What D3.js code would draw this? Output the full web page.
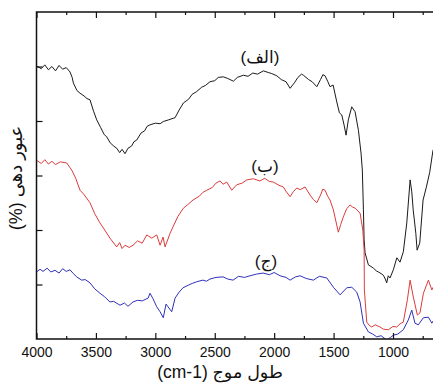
<!DOCTYPE html>
<html><head><meta charset="utf-8">
<script src="https://cdn.jsdelivr.net/npm/d3@7"></script>
<style>body{margin:0;background:#fff}svg{display:block}</style>
</head><body>
<svg id="c" width="433" height="383"></svg>
<script>
// wavenumber (cm-1) and transmittance (arbitrary %)
const blackWn = [4000,3960,3930,3900,3870,3840,3810,3780,3750,3718,3700,3690,3660,3634,3600,3575,3550,3520,3493,3460,3430,3409,3380,3350,3325,3300,3280,3255,3230,3200,3180,3157,3120,3090,3070,3045,3000,2960,2933,2890,2850,2834,2800,2764,2720,2690,2652,2610,2580,2540,2500,2470,2428,2390,2343,2310,2259,2220,2180,2140,2091,2050,2020,1978,1940,1900,1866,1830,1800,1770,1754,1710,1680,1641,1610,1590,1572,1550,1530,1504,1473,1451,1431,1412,1395,1376,1347,1319,1291,1269,1258,1249,1243,1235,1207,1185,1165,1140,1123,1100,1081,1065,1053,1040,1025,997,968,941,913,884,856,842,830,808,797,775,747,719,691,663];
const blackT  = [50.1,49.6,50.3,49.4,50.0,49.2,50.2,49.5,49.8,49.0,48.0,47.0,45.6,45.1,44.6,44.1,43.9,41.8,40.2,38.8,37.5,37.1,36.0,35.4,35.0,34.2,34.8,34.0,35.0,35.4,36.2,36.5,37.8,38.2,39.0,39.3,39.6,39.5,39.9,40.2,40.5,40.6,42.0,43.3,44.0,44.9,45.4,46.2,46.5,47.2,47.4,48.0,48.1,47.8,47.3,48.0,48.4,48.2,48.8,48.6,49.2,48.9,48.7,48.3,47.6,47.2,46.0,47.0,48.0,48.6,48.4,47.6,47.2,46.3,47.6,48.5,48.3,47.3,46.3,46.6,43.5,41.5,41.1,39.3,37.4,40.2,42.6,41.7,38.3,34.1,31.0,23.7,18.2,15.8,13.6,13.3,13.0,12.5,12.3,12.0,11.7,11.0,10.3,11.6,11.2,12.7,14.9,14.1,16.0,21.3,29.2,27.0,23.7,19.4,16.3,17.6,25.5,27.9,30.6,34.7];

const redWn = [4000,3960,3930,3900,3870,3840,3800,3746,3704,3670,3634,3600,3550,3510,3466,3420,3382,3350,3325,3300,3280,3255,3220,3188,3150,3110,3072,3030,2988,2960,2935,2918,2876,2851,2810,2764,2730,2683,2630,2600,2567,2520,2490,2455,2430,2399,2357,2315,2270,2230,2175,2120,2080,2040,2007,1960,1923,1900,1866,1840,1810,1780,1740,1698,1670,1641,1610,1590,1572,1550,1530,1502,1460,1440,1418,1390,1361,1340,1319,1277,1254,1243,1241,1221,1200,1179,1150,1109,1080,1039,1000,968,940,913,879,856,829,795,773,744,702,673,663];
const redT  = [32.8,32.2,32.9,32.1,32.6,32.0,32.5,32.3,31.0,29.5,27.3,26.5,25.0,23.0,21.3,19.8,18.5,17.6,16.9,17.7,16.6,17.2,16.8,17.2,18.0,17.6,19.1,18.5,19.1,17.2,18.7,16.9,19.4,20.6,22.5,24.0,24.6,25.5,26.2,26.9,27.3,27.8,28.6,29.0,28.4,28.8,27.3,28.3,28.6,29.2,29.4,29.0,29.5,28.9,28.8,28.2,27.9,27.1,26.1,27.0,27.7,27.4,27.9,26.4,25.6,25.0,26.4,27.5,27.3,26.2,25.5,23.7,19.6,21.0,22.4,23.9,24.6,24.2,24.0,23.1,20.0,16.3,9.0,3.1,2.5,2.2,2.6,2.2,1.8,1.7,2.3,2.2,2.8,3.1,7.2,10.8,7.7,4.4,4.8,8.4,10.8,9.0,9.5];

const blueWn = [4000,3970,3945,3910,3880,3844,3810,3780,3750,3718,3690,3662,3620,3590,3550,3510,3466,3430,3382,3350,3297,3260,3230,3188,3150,3110,3061,3045,3020,2988,2960,2933,2910,2893,2862,2834,2800,2767,2720,2690,2652,2600,2570,2540,2490,2430,2390,2346,2300,2250,2203,2150,2094,2040,2000,1951,1900,1866,1820,1782,1730,1670,1620,1557,1502,1445,1389,1347,1305,1277,1249,1207,1170,1137,1100,1053,1020,997,960,913,871,842,815,787,744,702,673,663];
const blueT  = [12.3,12.8,12.4,13.0,12.3,12.6,12.1,12.9,12.4,12.7,12.0,11.4,10.8,10.9,10.3,9.2,8.4,7.8,6.8,6.9,6.2,6.6,6.0,6.8,7.1,7.0,7.5,8.4,7.4,5.9,5.0,3.9,6.4,5.9,5.0,7.5,8.6,9.4,9.9,10.2,10.5,10.8,10.6,11.0,11.3,11.4,11.0,10.8,11.5,11.3,11.6,11.9,12.1,11.8,12.2,11.6,11.3,10.8,11.4,11.6,11.1,10.8,11.5,11.2,9.5,8.1,9.4,9.5,8.6,6.8,2.9,1.3,0.9,0.4,0.6,-0.2,0.3,0.7,0.9,1.7,3.5,5.3,2.9,2.6,3.9,4.0,2.9,3.3];

const majorTicks = [4000,3500,3000,2500,2000,1500,1000];
const minorTicks = [3750,3250,2750,2250,1750,1250,750];
const leftTicks = [10,20,30,40,50];

const seriesNames = ["(الف)","(ب)","(ج)"];
const xTitle = "طول موج (cm-1)";
const yTitle = "عبور دهی (%)";

const L = 36.5, R = 433, T = 12, B = 339;
const svg = d3.select("#c");
const x = d3.scaleLinear().domain([4000,1000]).range([L,393]);
const y = d3.scaleLinear().domain([0,60]).range([B,T]);

svg.append("defs").append("clipPath").attr("id","clip")
  .append("rect").attr("x",L).attr("y",T).attr("width",R-L+2).attr("height",B-T);

const series = [
  {wn: blackWn, t: blackT, color:"#1a1a1a"},
  {wn: redWn, t: redT, color:"#dd3b3b"},
  {wn: blueWn, t: blueT, color:"#3030b8"}
];
const line = d3.line().x(d=>x(d[0])).y(d=>y(d[1]));
const g = svg.append("g").attr("clip-path","url(#clip)");
series.forEach(s=>{
  g.append("path").datum(d3.zip(s.wn,s.t)).attr("d",line)
   .attr("fill","none").attr("stroke",s.color).attr("stroke-width",1).attr("stroke-linejoin","round");
});

// axes
const font = "'Liberation Sans', Arial, 'DejaVu Sans', sans-serif";
const bx = svg.append("g").attr("transform",`translate(0,${B})`)
  .call(d3.axisBottom(x).tickValues(majorTicks).tickSizeInner(-6).tickSizeOuter(0).tickPadding(8).tickFormat(d3.format("d")));
bx.select(".domain").remove();
bx.selectAll("text").attr("font-size",14).attr("font-family",font).attr("fill","#111");
const bm = svg.append("g").attr("transform",`translate(0,${B})`)
  .call(d3.axisBottom(x).tickValues(minorTicks).tickSizeInner(-3).tickSizeOuter(0).tickFormat(""));
bm.select(".domain").remove();
const tx = svg.append("g").attr("transform",`translate(0,${T})`)
  .call(d3.axisTop(x).tickValues(majorTicks).tickSizeInner(-6).tickSizeOuter(0).tickFormat(""));
tx.select(".domain").remove();
const tm = svg.append("g").attr("transform",`translate(0,${T})`)
  .call(d3.axisTop(x).tickValues(minorTicks).tickSizeInner(-3).tickSizeOuter(0).tickFormat(""));
tm.select(".domain").remove();
const ly = svg.append("g").attr("transform",`translate(${L},0)`)
  .call(d3.axisLeft(y).tickValues(leftTicks).tickSizeInner(-6).tickSizeOuter(0).tickFormat(""));
ly.select(".domain").remove();
svg.selectAll(".tick line").attr("stroke","#111").attr("stroke-width",1.2);

// frame
svg.append("path").attr("d",`M${R+2},${T}H${L}V${B}H${R+2}`)
  .attr("fill","none").attr("stroke","#111").attr("stroke-width",1.5);

// titles
svg.append("text").attr("x",220).attr("y",378).attr("text-anchor","middle")
  .attr("direction","rtl").style("direction","rtl").style("unicode-bidi","embed")
  .attr("font-size",17.5).attr("font-family",font).attr("fill","#111").text(xTitle);
svg.append("text").attr("transform","translate(22,178) rotate(-90)").attr("text-anchor","middle")
  .attr("direction","rtl").style("direction","rtl").style("unicode-bidi","embed")
  .attr("font-size",18).attr("font-family",font).attr("fill","#111").text(yTitle);

const labelPos = [[260,63],[265,172],[266,267]];
seriesNames.forEach((n,i)=>{
  svg.append("text").attr("x",labelPos[i][0]).attr("y",labelPos[i][1]).attr("text-anchor","middle")
    .attr("direction","rtl").style("direction","rtl").style("unicode-bidi","embed")
    .attr("font-size",17).attr("font-family",font).attr("fill","#111").text(n);
});
</script>
</body></html>
